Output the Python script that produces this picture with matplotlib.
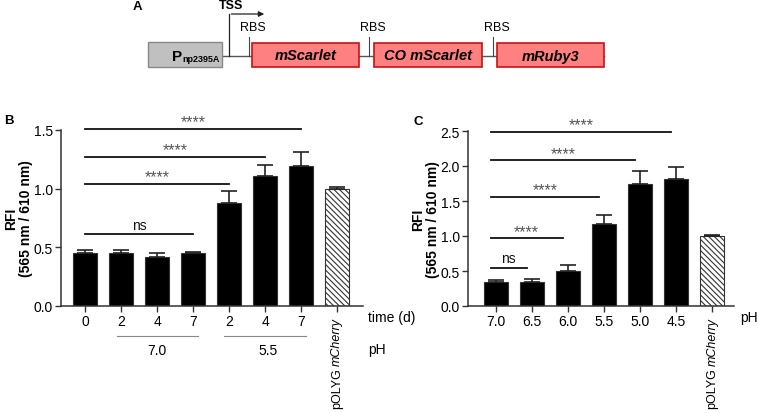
import numpy as np
import matplotlib
matplotlib.use("Agg")
import matplotlib.pyplot as plt
from matplotlib.patches import Rectangle

plt.rcParams['font.family'] = ['Liberation Sans', 'DejaVu Sans']
plt.rcParams['hatch.linewidth'] = 0.8

# panel B data
b_labels = ["0", "2", "4", "7", "2", "4", "7", ""]
b_values = [0.45, 0.45, 0.42, 0.45, 0.88, 1.11, 1.19, 1.00]
b_errors = [0.03, 0.03, 0.03, 0.01, 0.10, 0.09, 0.12, 0.01]
b_sig = [(0, 3, 0.61, "ns"), (0, 4, 1.04, "****"), (0, 5, 1.27, "****"), (0, 6, 1.51, "****")]

# panel C data
c_labels = ["7.0", "6.5", "6.0", "5.5", "5.0", "4.5", ""]
c_values = [0.35, 0.35, 0.50, 1.17, 1.75, 1.82, 1.00]
c_errors = [0.02, 0.03, 0.09, 0.13, 0.18, 0.17, 0.01]
c_sig = [(0, 1, 0.54, "ns"), (0, 2, 0.97, "****"), (0, 3, 1.56, "****"),
         (0, 4, 2.08, "****"), (0, 5, 2.49, "****")]

W, H = 758, 414
fig = plt.figure(figsize=(W / 100, H / 100), dpi=100)

# overlay axes in pixel coordinates for diagram and labels
ov = fig.add_axes([0, 0, 1, 1])
ov.set_xlim(0, W)
ov.set_ylim(H, 0)
ov.axis("off")

# ---- panel A: construct diagram
ov.text(137, 7, "A", fontsize=9.5, fontweight="bold", ha="center", va="center")
ov.plot([222, 604], [57, 57], color="#555555", lw=1, zorder=1)
ov.add_patch(Rectangle((148, 43), 74, 25, facecolor="#c0c0c0", edgecolor="#888888", lw=1, zorder=2))
ov.text(182, 57, "P", fontsize=11, fontweight="bold", ha="right", va="center")
ov.text(182, 60, "np2395A", fontsize=6.5, fontweight="bold", ha="left", va="center")
genes = [(252, 359, "mScarlet"), (374, 482, "CO mScarlet"), (497, 604, "mRuby3")]
for x0, x1, name in genes:
    ov.add_patch(Rectangle((x0, 44), x1 - x0, 24, facecolor="#ff8080", edgecolor="#cc1010", lw=1.2, zorder=2))
    ov.text((x0 + x1) / 2, 56.5, name, fontsize=10.5, fontweight="bold", style="italic", ha="center", va="center")
# TSS arrow
ov.plot([229, 229], [57, 15], color="#222222", lw=0.9)
ov.annotate("", xy=(267, 15), xytext=(228.6, 15),
            arrowprops=dict(arrowstyle="-|>", color="#222222", lw=0.9, mutation_scale=8))
ov.text(231, 6, "TSS", fontsize=9, fontweight="bold", ha="center", va="center")
for xr in [249, 369, 493]:
    ov.plot([xr, xr], [38, 57], color="#444444", lw=0.8)
    ov.text(xr + 4, 28, "RBS", fontsize=9, ha="center", va="center")


def style_axes(ax, ymax, ystep):
    ax.set_ylim(0, ymax)
    ax.set_yticks(np.arange(0, ymax + 0.01, ystep))
    ax.yaxis.set_major_formatter(matplotlib.ticker.FormatStrFormatter("%.1f"))
    for s in ["top", "right"]:
        ax.spines[s].set_visible(False)
    for s in ["left", "bottom"]:
        ax.spines[s].set_color("#333333")
        ax.spines[s].set_linewidth(1.1)
    ax.tick_params(axis="both", direction="out", length=4, width=1.0, color="#333333",
                   labelsize=10, pad=2)
    ax.set_ylabel("RFI\n(565 nm / 610 nm)", fontsize=10, fontweight="bold", labelpad=4, linespacing=1.1)


def draw_bars(ax, values, errors, labels, sig, offset):
    x = np.arange(len(values))
    cols = ["black"] * (len(values) - 1) + ["white"]
    bars = ax.bar(x, values, width=0.67, color=cols, edgecolor="#333333", lw=0.8, zorder=2)
    bars[-1].set_hatch("\\\\\\\\\\\\")
    ax.errorbar(x, values, yerr=[np.zeros(len(values)), errors], fmt="none",
                ecolor="#222222", elinewidth=1.2, capsize=6, capthick=1.2, zorder=3)
    ax.set_xticks(x)
    ax.set_xticklabels(labels)
    # rotated control label: "pOLYG" upright, "mCherry" italic
    xi = len(values) - 1
    ax.annotate("mCherry", xy=(xi, 0), xycoords=("data", "axes fraction"), xytext=(0, -8),
                textcoords="offset points", rotation=90, style="italic", fontsize=9,
                ha="center", va="top", annotation_clip=False)
    ax.annotate("pOLYG", xy=(xi, 0), xycoords=("data", "axes fraction"), xytext=(0, -44),
                textcoords="offset points", rotation=90, fontsize=9,
                ha="center", va="top", annotation_clip=False)
    for i0, i1, yv, txt in sig:
        ax.plot([i0 + offset, i1 + offset], [yv, yv], color="#111111", lw=1.3, clip_on=False)
        if txt == "ns":
            ax.annotate(txt, xy=((i0 + i1) / 2 + offset, yv), xytext=(0, 7), textcoords="offset points",
                        fontsize=10, color="#111111", ha="center", va="center", annotation_clip=False)
        else:
            ax.annotate(txt, xy=((i0 + i1) / 2 + offset, yv), xytext=(0, 5), textcoords="offset points",
                        fontsize=11.5, color="#555555", ha="center", va="center", annotation_clip=False)


# ---- panel B
axb = fig.add_axes([61 / W, (H - 307) / H, (363 - 61) / W, (307 - 131) / H])
style_axes(axb, 1.5, 0.5)
draw_bars(axb, b_values, b_errors, b_labels, b_sig, 0.0)
axb.set_xlim(-0.67, 7.72)
axb.yaxis.set_label_coords(-0.092, 0.5)
ov.text(4, 121, "B", fontsize=9.5, fontweight="bold", ha="left", va="center")
ov.text(368, 318, "time (d)", fontsize=10, ha="left", va="center")
ov.text(368, 350, "pH", fontsize=10, ha="left", va="center")
ov.plot([117, 198], [337, 337], color="#888888", lw=0.8)
ov.plot([224, 306], [337, 337], color="#888888", lw=0.8)
ov.text(157, 351, "7.0", fontsize=10, ha="center", va="center")
ov.text(268, 351, "5.5", fontsize=10, ha="center", va="center")

# ---- panel C
axc = fig.add_axes([468 / W, (H - 307) / H, (734 - 468) / W, (307 - 132) / H])
style_axes(axc, 2.5, 0.5)
draw_bars(axc, c_values, c_errors, c_labels, c_sig, -0.15)
axc.set_xlim(-0.78, 6.6)
axc.yaxis.set_label_coords(-0.105, 0.5)
ov.text(413, 122, "C", fontsize=9.5, fontweight="bold", ha="left", va="center")
ov.text(740, 318, "pH", fontsize=10, ha="left", va="center")

fig.savefig("out.png", dpi=100)
